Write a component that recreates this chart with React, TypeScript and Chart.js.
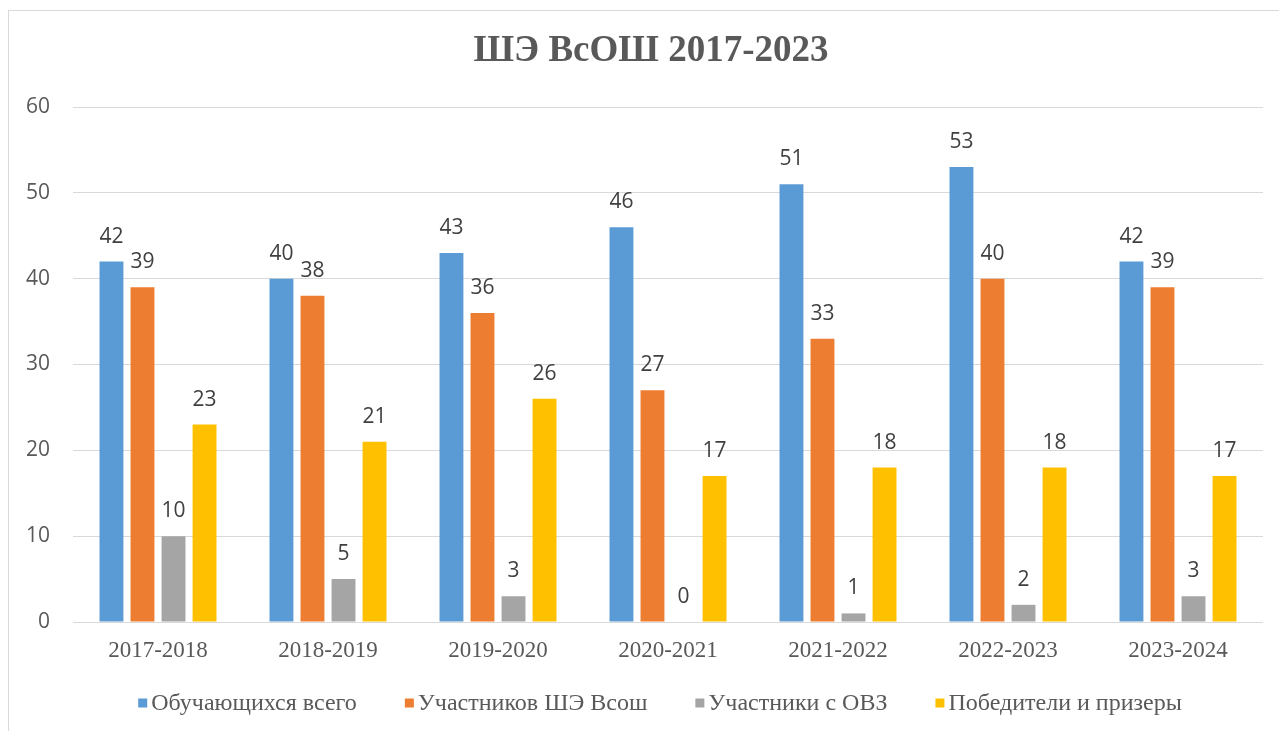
import React, { useEffect, useRef } from "react";
import { Chart, registerables } from "chart.js";

Chart.register(...registerables);

const categories = ["2017-2018", "2018-2019", "2019-2020", "2020-2021", "2021-2022", "2022-2023", "2023-2024"];
const studentsTotal = [42, 40, 43, 46, 51, 53, 42];
const participants = [39, 38, 36, 27, 33, 40, 39];
const participantsOVZ = [10, 5, 3, 0, 1, 2, 3];
const winners = [23, 21, 26, 17, 18, 18, 17];
const seriesNames = ["Обучающихся всего", "Участников ШЭ Всош", "Участники с ОВЗ", "Победители и призеры"];
const seriesColors = ["#5B9BD5", "#ED7D31", "#A5A5A5", "#FFC000"];
const titleText = "ШЭ ВсОШ 2017-2023";

const valueLabels = {
  id: "valueLabels",
  afterDatasetsDraw(chart: any) {
    const ctx = chart.ctx;
    ctx.save();
    ctx.font = "21px 'Open Sans'";
    ctx.fillStyle = "#404040";
    ctx.textAlign = "center";
    ctx.textBaseline = "alphabetic";
    chart.data.datasets.forEach((ds: any, i: number) => {
      const meta = chart.getDatasetMeta(i);
      meta.data.forEach((el: any, j: number) => {
        ctx.fillText(String(ds.data[j]), el.x, el.y - 19);
      });
    });
    ctx.restore();
  },
};

const titleAndLegend = {
  id: "titleAndLegend",
  afterDraw(chart: any) {
    const ctx = chart.ctx;
    ctx.save();
    // title
    ctx.font = "bold 37px 'Liberation Serif'";
    ctx.fillStyle = "#595959";
    ctx.textAlign = "center";
    ctx.textBaseline = "middle";
    ctx.fillText(titleText, 642, 40);
    // legend
    ctx.font = "24px 'Liberation Serif'";
    ctx.textAlign = "left";
    const box = 9;
    const boxGap = 4;
    const itemGap = 48;
    const widths = seriesNames.map((n) => box + boxGap + ctx.measureText(n).width);
    const total = widths.reduce((a, b) => a + b, 0) + itemGap * (seriesNames.length - 1);
    let x = 651 - total / 2;
    const y = 692;
    seriesNames.forEach((n, i) => {
      ctx.fillStyle = seriesColors[i];
      ctx.fillRect(x, y - box / 2, box, box);
      ctx.fillStyle = "#595959";
      ctx.fillText(n, x + box + boxGap, y + 1);
      x += widths[i] + itemGap;
    });
    ctx.restore();
  },
};

export default function App() {
  const ref = useRef<HTMLCanvasElement | null>(null);
  useEffect(() => {
    if (!ref.current) return;
    const data = [studentsTotal, participants, participantsOVZ, winners];
    const chart = new Chart(ref.current, {
      type: "bar",
      data: {
        labels: categories,
        datasets: data.map((d, i) => ({
          label: seriesNames[i],
          data: d,
          backgroundColor: seriesColors[i],
          borderWidth: 0,
          categoryPercentage: 0.73,
          barPercentage: 0.77,
        })),
      },
      options: {
        animation: false,
        responsive: false,
        maintainAspectRatio: false,
        layout: { padding: { left: 0, right: 16, top: 96, bottom: 49 } },
        plugins: {
          tooltip: { enabled: false },
          title: { display: false },
          legend: { display: false },
        },
        scales: {
          x: {
            grid: { display: false, drawTicks: false },
            border: { display: false },
            ticks: {
              color: "#595959",
              font: { family: "'Liberation Serif'", size: 23 },
              padding: 15,
            },
            afterFit: (s: any) => {
              s.height = 60;
            },
          },
          y: {
            min: 0,
            max: 60,
            ticks: {
              stepSize: 10,
              color: "#595959",
              font: { family: "'Open Sans'", size: 21 },
              padding: 23,
            },
            grid: { color: "#d9d9d9", lineWidth: 1, drawTicks: false },
            border: { display: false },
            afterFit: (s: any) => {
              s.width = 64;
            },
          },
        },
      },
      plugins: [valueLabels, titleAndLegend],
    });
    return () => chart.destroy();
  }, []);
  return (
    <div
      style={{
        position: "fixed",
        left: 8,
        top: 10,
        width: 1271,
        height: 721,
        borderTop: "1px solid #d9d9d9",
        borderLeft: "1px solid #d9d9d9",
        background: "#fff",
        boxSizing: "border-box",
      }}
    >
      <canvas ref={ref} width={1270} height={720} style={{ display: "block" }} />
    </div>
  );
}
